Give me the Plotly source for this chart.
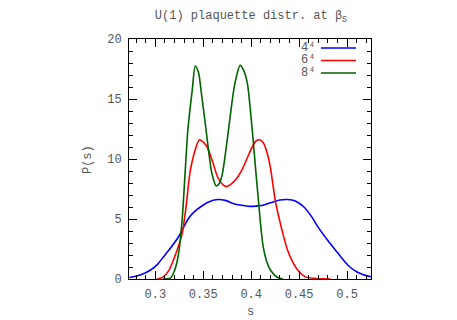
import plotly.graph_objects as go

# --- data ---
s_4 = [0.273, 0.285, 0.295, 0.302, 0.308, 0.316, 0.324, 0.330, 0.336, 0.342, 0.347, 0.355,
       0.365, 0.373, 0.381, 0.390, 0.401, 0.410, 0.420, 0.430, 0.438, 0.446, 0.455, 0.463,
       0.470, 0.480, 0.490, 0.497, 0.503, 0.510, 0.517, 0.525]
p_4 = [0.12, 0.35, 0.75, 1.2, 1.8, 2.6, 3.5, 4.4, 5.2, 5.7, 6.0, 6.4,
       6.62, 6.55, 6.3, 6.15, 6.05, 6.12, 6.35, 6.58, 6.62, 6.5, 6.0, 5.2,
       4.3, 3.2, 2.2, 1.5, 1.0, 0.6, 0.35, 0.18]

s_6 = [0.302, 0.308, 0.314, 0.319, 0.324, 0.328, 0.332, 0.336, 0.341, 0.346, 0.350, 0.354,
       0.360, 0.365, 0.370, 0.374, 0.379, 0.385, 0.391, 0.396, 0.401, 0.405, 0.409, 0.413,
       0.417, 0.420, 0.425, 0.429, 0.433, 0.438, 0.444, 0.450, 0.456, 0.465, 0.475, 0.483]
p_6 = [0.0, 0.15, 0.7, 1.6, 2.7, 3.8, 6.0, 8.8, 10.6, 11.6, 11.4, 11.0,
       9.7, 8.5, 7.9, 7.7, 7.9, 8.4, 9.2, 10.1, 11.0, 11.5, 11.6, 11.3,
       10.4, 9.3, 6.6, 5.1, 3.8, 2.4, 1.3, 0.6, 0.2, 0.06, 0.02, 0.0]

s_8 = [0.308, 0.316, 0.320, 0.324, 0.328, 0.331, 0.334, 0.3385, 0.3417, 0.345, 0.348, 0.352,
       0.356, 0.359, 0.3635, 0.367, 0.370, 0.374, 0.378, 0.383, 0.3885, 0.392, 0.396, 0.399,
       0.402, 0.405, 0.4075, 0.410, 0.4125, 0.416, 0.420, 0.427, 0.433]
p_8 = [0.0, 0.1, 0.7, 2.0, 5.0, 8.8, 12.5, 15.75, 17.75, 17.2, 15.5, 13.0,
       10.4, 8.8, 7.75, 8.0, 8.8, 11.0, 13.5, 16.3, 17.8, 17.4, 16.3, 14.2,
       11.6, 8.8, 6.6, 4.4, 2.7, 1.5, 0.75, 0.15, 0.0]

labels = ["4⁴", "6⁴", "8⁴"]
colors = ["#0000ff", "#ff0000", "#006400"]

font = "Liberation Mono"
txt = "#555555"

fig = go.Figure()
for xs, ys, c in zip([s_4, s_6, s_8], [p_4, p_6, p_8], colors):
    fig.add_trace(go.Scatter(x=xs, y=ys, mode="lines", line=dict(color=c, width=1.6, shape="spline", smoothing=0.8),
                             showlegend=False))

# gnuplot style key: label on the left, line sample on the right
for i, (lab, c) in enumerate(zip(labels, colors)):
    y0 = 0.9625 - i * 0.052
    fig.add_annotation(x=0.778, y=y0, xref="paper", yref="paper", text=lab, showarrow=False,
                       xanchor="right", yanchor="middle", font=dict(family=font, size=12, color=txt))
    fig.add_shape(type="line", xref="paper", yref="paper", x0=0.793, x1=0.938, y0=y0, y1=y0,
                  line=dict(color=c, width=1.6))

# axis titles placed by hand (gnuplot positions)
fig.add_annotation(x=0.5, y=-0.1375, xref="paper", yref="paper", text="s", showarrow=False,
                   xanchor="center", yanchor="middle", font=dict(family=font, size=12, color=txt))
fig.add_annotation(x=-0.169, y=0.496, xref="paper", yref="paper", text="P(s)", showarrow=False,
                   textangle=-90, xanchor="center", yanchor="middle", font=dict(family=font, size=12, color=txt))

axis_common = dict(showline=True, linecolor="black", linewidth=1, mirror="allticks", ticks="inside",
                   ticklen=8, tickcolor="black", showgrid=False, zeroline=False, automargin=False,
                   tickfont=dict(family=font, size=12, color=txt))

fig.update_layout(
    width=457, height=320,
    margin=dict(l=121, r=94, t=31, b=49, autoexpand=False),
    paper_bgcolor="white", plot_bgcolor="white",
    title=dict(text="U(1) plaquette distr. at β<sub>S</sub>", x=243 / 457, xanchor="center",
               y=1 - 7 / 320, yanchor="middle", font=dict(family=font, size=12, color=txt)),
    xaxis=dict(range=[0.2725, 0.525], dtick=0.05, tick0=0.3,
               minor=dict(ticks="inside", dtick=0.01, tick0=0.3, ticklen=4, tickcolor="black"),
               ticklabelstandoff=4, **axis_common),
    yaxis=dict(range=[0, 20], dtick=5,
               minor=dict(ticks="inside", dtick=1, ticklen=4, tickcolor="black"),
               ticklabelstandoff=4, **axis_common),
)

fig.write_html("out.html")
